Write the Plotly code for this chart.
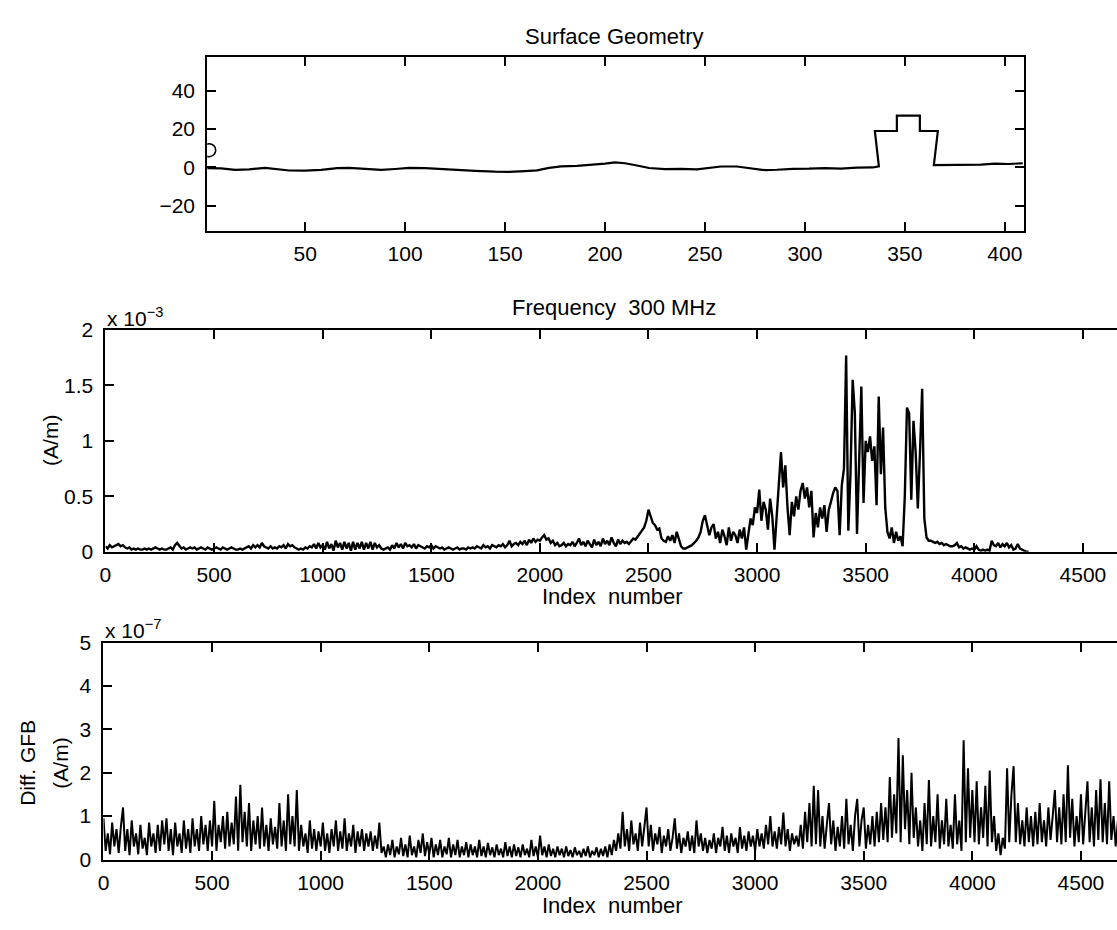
import numpy as np
import plotly.graph_objects as go

# ---------------- data ----------------
# Surface profile (index, height)
surface_x = [1, 8, 15, 22, 30, 35, 42, 50, 58, 66, 72, 80, 88, 95, 102, 110, 118, 126,
             135, 145, 152, 160, 166, 172, 178, 186, 194, 200, 205, 210, 216, 222, 230,
             238, 246, 252, 258, 266, 272, 280, 286, 294, 302, 310, 318, 326, 334,
             337, 335, 346, 346, 357.5, 357.5, 366.5, 364.5, 372, 380, 388, 395, 402, 409]
surface_y = [-0.3, -0.5, -1.3, -1.0, -0.2, -0.8, -1.6, -1.7, -1.3, -0.4, -0.2, -0.7, -1.3,
             -0.8, -0.2, -0.4, -0.9, -1.6, -1.8, -2.2, -2.3, -1.9, -1.5, -0.2, 0.6, 0.8,
             1.3, 2.0, 2.6, 2.2, 1.0, -0.3, -0.9, -0.7, -1.0, -0.4, 0.5, 0.5, -0.2, -1.4,
             -1.2, -0.7, -0.6, -0.3, -0.6, -0.1, 0.0,
             0.6, 19, 19, 27, 27, 19, 19, 1.2, 1.2, 1.3, 1.5, 2.0, 1.8, 2.2]
source_x = [2]
source_y = [9]

# Surface current magnitude at 300 MHz (x 1e-3 A/m), one value per 10 samples
current_step = 10
current_e3 = [
    0.05, 0.03, 0.06, 0.04, 0.05, 0.06, 0.07, 0.05, 0.06, 0.04,
    0.03, 0.04, 0.02, 0.03, 0.02, 0.03, 0.02, 0.02, 0.03, 0.02,
    0.03, 0.02, 0.03, 0.04, 0.03, 0.02, 0.03, 0.02, 0.02, 0.03,
    0.04, 0.02, 0.06, 0.08, 0.05, 0.03, 0.04, 0.02, 0.03, 0.04,
    0.03, 0.04, 0.02, 0.03, 0.04, 0.03, 0.02, 0.04, 0.03, 0.02,
    0.03, 0.04, 0.03, 0.02, 0.04, 0.03, 0.02, 0.03, 0.04, 0.03,
    0.02, 0.02, 0.03, 0.02, 0.03, 0.04, 0.05, 0.03, 0.06, 0.04,
    0.06, 0.04, 0.08, 0.05, 0.04, 0.03, 0.05, 0.03, 0.04, 0.03,
    0.05, 0.04, 0.06, 0.03, 0.07, 0.05, 0.06, 0.04, 0.03, 0.02,
    0.03, 0.02, 0.04, 0.03, 0.05, 0.04, 0.07, 0.03, 0.08, 0.04,
    0.06, 0.02, 0.09, 0.03, 0.07, 0.01, 0.10, 0.04, 0.08, 0.02,
    0.09, 0.03, 0.08, 0.01, 0.09, 0.02, 0.08, 0.03, 0.09, 0.02,
    0.08, 0.03, 0.09, 0.02, 0.08, 0.04, 0.06, 0.03, 0.02, 0.03,
    0.04, 0.02, 0.06, 0.03, 0.08, 0.04, 0.07, 0.03, 0.08, 0.05,
    0.06, 0.04, 0.07, 0.03, 0.06, 0.05, 0.04, 0.03, 0.05, 0.04,
    0.06, 0.03, 0.05, 0.04, 0.03, 0.04, 0.02, 0.03, 0.04, 0.03,
    0.02, 0.03, 0.04, 0.02, 0.03, 0.03, 0.02, 0.04, 0.03, 0.04,
    0.03, 0.05, 0.04, 0.03, 0.06, 0.04, 0.05, 0.03, 0.06, 0.05,
    0.04, 0.06, 0.05, 0.07, 0.04, 0.06, 0.10, 0.05, 0.07, 0.08,
    0.06, 0.09, 0.07, 0.10, 0.06, 0.11, 0.08, 0.12, 0.09, 0.11,
    0.10, 0.13, 0.15, 0.11, 0.12, 0.08, 0.10, 0.06, 0.08, 0.05,
    0.06, 0.08, 0.05, 0.07, 0.06, 0.09, 0.05, 0.08, 0.12, 0.06,
    0.09, 0.05, 0.10, 0.07, 0.04, 0.11, 0.06, 0.09, 0.05, 0.12,
    0.07, 0.10, 0.06, 0.13, 0.08, 0.05, 0.11, 0.07, 0.10, 0.08,
    0.09, 0.07, 0.10, 0.12, 0.11, 0.14, 0.16, 0.19, 0.22, 0.28,
    0.38, 0.32, 0.26, 0.24, 0.20, 0.21, 0.12, 0.10, 0.09, 0.14,
    0.10, 0.15, 0.08, 0.18, 0.12, 0.05, 0.03, 0.03, 0.04, 0.05,
    0.06, 0.08, 0.10, 0.13, 0.18, 0.28, 0.33, 0.24, 0.15, 0.22,
    0.25, 0.12, 0.18, 0.08, 0.20, 0.14, 0.06, 0.22, 0.10, 0.18,
    0.15, 0.08, 0.20, 0.12, 0.22, 0.02, 0.18, 0.30, 0.24, 0.40,
    0.35, 0.56, 0.28, 0.45, 0.38, 0.20, 0.48, 0.32, 0.02, 0.30,
    0.62, 0.90, 0.58, 0.78, 0.40, 0.15, 0.45, 0.32, 0.50, 0.38,
    0.55, 0.62, 0.48, 0.58, 0.40, 0.55, 0.13, 0.35, 0.22, 0.40,
    0.30, 0.42, 0.18, 0.38, 0.45, 0.53, 0.58, 0.55, 0.15, 0.60,
    0.75, 1.77, 0.19, 0.70, 1.55, 1.25, 0.16, 0.95, 1.49, 0.44,
    1.00, 0.90, 1.04, 0.82, 0.95, 0.42, 1.40, 0.70, 1.12, 0.40,
    0.18, 0.12, 0.22, 0.08, 0.18, 0.10, 0.14, 0.05, 0.50, 1.30,
    1.25, 0.47, 1.18, 0.90, 0.39, 0.90, 1.47, 0.30, 0.13, 0.10,
    0.10, 0.09, 0.08, 0.09, 0.07, 0.08, 0.06, 0.07, 0.06, 0.05,
    0.05, 0.06, 0.08, 0.04, 0.05, 0.03, 0.04, 0.03, 0.02, 0.03,
    0.02, 0.05, 0.02, 0.01, 0.02, 0.01, 0.02, 0.01, 0.10, 0.06,
    0.05, 0.08, 0.04, 0.07, 0.05, 0.08, 0.04, 0.06, 0.02, 0.03,
    0.07, 0.03, 0.02, 0.01, 0.00, 0.00,
]

# Difference between GFB solutions (x 1e-7 A/m), one value per 10 samples
diff_step = 10
diff_e7 = [
    0.95, 0.20, 0.60, 0.12, 0.85, 0.30, 0.70, 0.15, 0.75, 1.20,
    0.20, 0.70, 0.10, 0.90, 0.30, 0.60, 0.12, 0.80, 0.25, 0.50,
    0.10, 0.85, 0.30, 0.60, 0.15, 0.80, 0.20, 0.90, 0.35, 0.95,
    0.20, 0.70, 0.10, 0.85, 0.30, 0.60, 0.15, 0.90, 0.25, 0.70,
    0.15, 0.95, 0.30, 0.70, 0.20, 1.00, 0.35, 0.80, 0.20, 0.90,
    0.30, 1.35, 0.20, 0.80, 0.40, 1.00, 0.25, 1.10, 0.30, 0.85,
    0.35, 1.45, 0.20, 1.72, 0.40, 1.10, 0.30, 1.30, 0.20, 0.90,
    0.35, 1.00, 0.25, 1.20, 0.30, 0.80, 0.20, 0.95, 0.35, 0.75,
    0.25, 1.30, 0.30, 0.90, 0.20, 1.50, 0.35, 1.00, 0.30, 1.60,
    0.20, 0.80, 0.30, 0.60, 0.15, 0.90, 0.25, 0.70, 0.20, 0.65,
    0.30, 0.85, 0.20, 0.60, 0.15, 0.70, 0.30, 0.90, 0.20, 0.65,
    0.25, 0.95, 0.20, 0.60, 0.30, 0.80, 0.15, 0.65, 0.30, 0.70,
    0.20, 0.60, 0.30, 0.65, 0.20, 0.55, 0.25, 0.85, 0.15, 0.30,
    0.05, 0.35, 0.10, 0.45, 0.05, 0.30, 0.12, 0.50, 0.08, 0.35,
    0.05, 0.55, 0.10, 0.30, 0.05, 0.45, 0.15, 0.60, 0.08, 0.40,
    0.12, 0.50, 0.05, 0.35, 0.10, 0.45, 0.05, 0.30, 0.12, 0.50,
    0.05, 0.35, 0.10, 0.45, 0.05, 0.30, 0.10, 0.40, 0.05, 0.35,
    0.10, 0.30, 0.05, 0.45, 0.08, 0.30, 0.05, 0.38, 0.10, 0.28,
    0.05, 0.35, 0.10, 0.25, 0.05, 0.40, 0.08, 0.30, 0.05, 0.35,
    0.08, 0.28, 0.05, 0.35, 0.10, 0.25, 0.05, 0.45, 0.08, 0.30,
    0.05, 0.55, 0.10, 0.30, 0.05, 0.35, 0.08, 0.25, 0.05, 0.30,
    0.10, 0.25, 0.05, 0.30, 0.08, 0.22, 0.05, 0.28, 0.10, 0.20,
    0.05, 0.25, 0.08, 0.30, 0.05, 0.20, 0.10, 0.28, 0.05, 0.25,
    0.08, 0.30, 0.05, 0.35, 0.10, 0.45, 0.20, 0.60, 0.25, 1.10,
    0.30, 0.70, 0.20, 0.90, 0.35, 0.60, 0.20, 0.85, 0.30, 0.70,
    1.20, 0.30, 0.80, 0.20, 0.60, 0.35, 0.75, 0.15, 0.55, 0.30,
    0.70, 0.20, 0.50, 0.95, 0.25, 0.60, 0.15, 0.50, 0.30, 0.65,
    0.20, 0.55, 0.15, 0.90, 0.30, 0.60, 0.20, 0.50, 0.15, 0.45,
    0.25, 0.60, 0.15, 0.50, 0.30, 0.75, 0.20, 0.55, 0.15, 0.60,
    0.30, 0.50, 0.15, 0.75, 0.25, 0.55, 0.20, 0.65, 0.30, 0.55,
    0.20, 0.70, 0.30, 0.60, 0.25, 0.80, 0.35, 1.00, 0.30, 0.65,
    0.25, 0.75, 0.35, 1.08, 0.30, 0.70, 0.20, 0.60, 0.35, 0.55,
    0.30, 0.80, 0.25, 1.10, 0.40, 1.30, 0.30, 1.70, 0.35, 1.60,
    0.30, 1.00, 0.25, 0.80, 1.30, 0.35, 0.90, 0.20, 0.75, 0.30,
    1.00, 0.25, 1.40, 0.35, 0.80, 0.20, 1.00, 1.40, 0.30, 0.90,
    1.20, 0.25, 0.80, 0.35, 1.00, 0.30, 1.10, 0.40, 1.30, 0.45,
    1.20, 0.40, 1.90, 0.50, 1.50, 0.60, 2.80, 0.40, 2.40, 0.70,
    1.60, 0.35, 2.00, 0.50, 1.20, 0.30, 0.90, 0.20, 1.30, 0.35,
    1.83, 0.30, 1.00, 0.40, 1.50, 0.25, 0.90, 0.35, 1.40, 0.30,
    0.80, 0.25, 1.50, 0.35, 0.90, 0.20, 2.75, 0.40, 2.10, 0.50,
    1.60, 0.40, 1.80, 0.35, 1.20, 0.50, 1.70, 0.30, 2.05, 0.40,
    1.00, 0.20, 0.60, 0.10, 0.50, 0.25, 2.10, 0.40, 1.50, 2.15,
    0.40, 1.30, 0.35, 0.90, 0.30, 1.20, 0.40, 1.00, 0.30, 1.10,
    0.35, 1.30, 0.40, 0.90, 0.30, 1.20, 0.45, 1.00, 1.60, 0.40,
    1.20, 0.35, 1.50, 0.40, 2.17, 0.50, 1.40, 0.30, 1.00, 0.40,
    1.50, 0.35, 1.00, 1.80, 0.40, 1.20, 0.30, 1.60, 0.45, 1.85,
    0.40, 1.30, 0.35, 1.80, 0.45, 1.00, 0.30, 0.90,
]

index_ticks = [0, 500, 1000, 1500, 2000, 2500, 3000, 3500, 4000, 4500]
index_tick_text = ["0", "500", "1000", "1500", "2000", "2500", "3000", "3500", "4000", "4500"]
current_ticks = [0, 0.5, 1, 1.5, 2]
current_tick_text = ["0", "0.5", "1", "1.5", "2"]
diff_ticks = [0, 1, 2, 3, 4, 5]
diff_tick_text = ["0", "1", "2", "3", "4", "5"]

# ---------------- figure ----------------
W, H = 1117, 930
FONT = "Liberation Sans, Arial, Helvetica, sans-serif"
TICK_FONT = dict(family=FONT, size=21, color="black")


def px_x(p):
    return p / W


def px_y(p):
    return 1 - p / H


current_x = np.arange(len(current_e3)) * current_step
current_y = np.array(current_e3) * 1e-3
diff_x = np.arange(len(diff_e7)) * diff_step
diff_y = np.array(diff_e7) * 1e-7

fig = go.Figure()

fig.add_trace(go.Scatter(x=surface_x, y=surface_y, mode="lines",
                         line=dict(color="black", width=2.2),
                         xaxis="x", yaxis="y", hoverinfo="skip"))
fig.add_trace(go.Scatter(x=source_x, y=source_y, mode="markers",
                         marker=dict(symbol="circle-open", size=13, color="black",
                                     line=dict(width=1.6, color="black")),
                         xaxis="x", yaxis="y", hoverinfo="skip"))
fig.add_trace(go.Scatter(x=current_x, y=current_y, mode="lines",
                         line=dict(color="black", width=2.4),
                         xaxis="x2", yaxis="y2", hoverinfo="skip"))
fig.add_trace(go.Scatter(x=diff_x, y=diff_y, mode="lines",
                         line=dict(color="black", width=2.0),
                         xaxis="x3", yaxis="y3", hoverinfo="skip"))

base = dict(showline=True, linecolor="black", linewidth=2,
            ticks="inside", ticklen=9, tickwidth=1.5, tickcolor="black",
            showgrid=False, zeroline=False, tickfont=TICK_FONT)
x_axis = dict(base, mirror="ticks", ticklabelstandoff=3)
y_axis_boxed = dict(base, mirror="ticks", ticklabelstandoff=6)
y_axis_left = dict(base, mirror=False, ticklabelstandoff=6)
# right-hand tick marks for the wide panels (their right frame edge falls off the page)
y_axis_right = dict(showline=False, ticks="inside", ticklen=9, tickwidth=1.5,
                    tickcolor="black", showgrid=False, zeroline=False,
                    showticklabels=False, side="right")

fig.update_layout(
    # top panel: surface geometry
    xaxis=dict(domain=[px_x(202.3), px_x(1023.3)], range=[1, 409.5],
               tickvals=[50, 100, 150, 200, 250, 300, 350, 400],
               ticktext=["50", "100", "150", "200", "250", "300", "350", "400"],
               anchor="y", **x_axis),
    yaxis=dict(domain=[px_y(224.5), px_y(46.5)], range=[-33.1, 57.4],
               tickvals=[-20, 0, 20, 40], ticktext=["\u221220", "0", "20", "40"],
               anchor="x", **y_axis_boxed),
    # middle panel: current at 300 MHz
    xaxis2=dict(domain=[px_x(100), 1.0], range=[0, 4657],
                tickvals=index_ticks, ticktext=index_tick_text,
                anchor="y2", **x_axis),
    yaxis2=dict(domain=[px_y(553.5), px_y(326)], range=[0, 2e-3],
                tickvals=[v * 1e-3 for v in current_ticks], ticktext=current_tick_text,
                anchor="x2", **y_axis_left),
    yaxis4=dict(overlaying="y2", anchor="x2", range=[0, 2e-3],
                tickvals=[v * 1e-3 for v in current_ticks], **y_axis_right),
    # bottom panel: GFB difference
    xaxis3=dict(domain=[px_x(98), 1.0], range=[0, 4666],
                tickvals=index_ticks, ticktext=index_tick_text,
                anchor="y3", **x_axis),
    yaxis3=dict(domain=[px_y(869), px_y(646.5)], range=[0, 5e-7],
                tickvals=[v * 1e-7 for v in diff_ticks], ticktext=diff_tick_text,
                anchor="x3", **y_axis_left),
    yaxis5=dict(overlaying="y3", anchor="x3", range=[0, 5e-7],
                tickvals=[v * 1e-7 for v in diff_ticks], **y_axis_right),
)


def label(text, x, y, angle=0, xanchor="center", yanchor="middle", size=21):
    fig.add_annotation(text=text, x=px_x(x), y=px_y(y), xref="paper", yref="paper",
                       showarrow=False, textangle=angle, xanchor=xanchor,
                       yanchor=yanchor, font=dict(family=FONT, size=size, color="black"))


label("Surface Geometry", 612, 25, size=22)
label("Frequency  300 MHz", 611, 303, size=22)
label("x 10<sup>\u22123</sup>", 100, 313, xanchor="left")
label("(A/m)", 44, 439, angle=-90)
label("Index  number", 610, 599, size=22)
label("x 10<sup>\u22127</sup>", 98, 633, xanchor="left")
label("Diff. GFB", 22, 770, angle=-90)
label("(A/m)", 55, 770, angle=-90)
label("Index  number", 610, 916, size=22)

fig.update_layout(width=W, height=H, margin=dict(l=0, r=0, t=0, b=0),
                  paper_bgcolor="white", plot_bgcolor="white", showlegend=False)

fig.write_html("out.html")
